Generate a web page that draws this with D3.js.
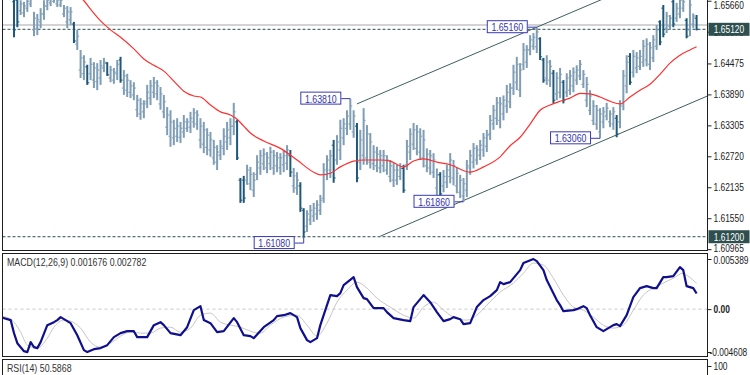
<!DOCTYPE html>
<html>
<head>
<meta charset="utf-8">
<script src="https://cdn.jsdelivr.net/npm/d3@7"></script>
<style>
  body { margin: 0; background: #fff; }
  svg { display: block; font-family: 'Liberation Sans', Arial, sans-serif; }
</style>
</head>
<body>
<div id="chart"></div>
<script>
// price bars (one per period, oldest first)
const barHigh = [
  1.6577, 1.6577, 1.6567, 1.6564, 1.6573, 1.6575, 1.6545, 1.6541, 1.6552, 1.6567,
  1.6573, 1.6577, 1.6575, 1.6571, 1.6573, 1.6558, 1.6556, 1.6554, 1.6526, 1.6511,
  1.6473, 1.6463, 1.6445, 1.6458, 1.6450, 1.6448, 1.6454, 1.6458, 1.6450, 1.6443,
  1.6439, 1.6454, 1.6460, 1.6435, 1.6428, 1.6416, 1.6412, 1.6388, 1.6382, 1.6378,
  1.6407, 1.6416, 1.6422, 1.6416, 1.6403, 1.6388, 1.6365, 1.6359, 1.6341, 1.6344,
  1.6337, 1.6350, 1.6344, 1.6356, 1.6363, 1.6359, 1.6344, 1.6337, 1.6325, 1.6318,
  1.6303, 1.6293, 1.6303, 1.6325, 1.6337, 1.6344, 1.6373, 1.6341, 1.6231, 1.6235,
  1.6256, 1.6252, 1.6242, 1.6274, 1.6284, 1.6287, 1.6280, 1.6290, 1.6284, 1.6280,
  1.6278, 1.6284, 1.6293, 1.6284, 1.6250, 1.6242, 1.6223, 1.6174, 1.6170, 1.6180,
  1.6184, 1.6189, 1.6199, 1.6259, 1.6274, 1.6284, 1.6303, 1.6312, 1.6341, 1.6344,
  1.6359, 1.6381, 1.6359, 1.6335, 1.6322, 1.6363, 1.6331, 1.6316, 1.6293, 1.6290,
  1.6284, 1.6284, 1.6274, 1.6265, 1.6259, 1.6256, 1.6259, 1.6256, 1.6303, 1.6325,
  1.6335, 1.6331, 1.6325, 1.6322, 1.6287, 1.6284, 1.6278, 1.6249, 1.6242, 1.6246,
  1.6256, 1.6278, 1.6265, 1.6251, 1.6237, 1.6231, 1.6265, 1.6284, 1.6297, 1.6293,
  1.6303, 1.6316, 1.6322, 1.6350, 1.6369, 1.6384, 1.6384, 1.6387, 1.6407, 1.6410,
  1.6445, 1.6460, 1.6448, 1.6486, 1.6482, 1.6501, 1.6505, 1.6516, 1.6497, 1.6458,
  1.6463, 1.6454, 1.6435, 1.6431, 1.6439, 1.6416, 1.6429, 1.6435, 1.6440, 1.6444,
  1.6454, 1.6435, 1.6422, 1.6397, 1.6378, 1.6369, 1.6363, 1.6365, 1.6373, 1.6359,
  1.6365, 1.6350, 1.6378, 1.6435, 1.6463, 1.6467, 1.6473, 1.6469, 1.6473, 1.6492,
  1.6495, 1.6488, 1.6501, 1.6520, 1.6529, 1.6558, 1.6545, 1.6539, 1.6571, 1.6562,
  1.6577, 1.6573, 1.6533, 1.6571, 1.6542, 1.6539
];
const barLow = [
  1.6497, 1.6516, 1.6539, 1.6535, 1.6545, 1.6554, 1.6499, 1.6501, 1.6514, 1.6530,
  1.6548, 1.6556, 1.6562, 1.6554, 1.6554, 1.6535, 1.6514, 1.6520, 1.6486, 1.6473,
  1.6420, 1.6416, 1.6407, 1.6416, 1.6401, 1.6397, 1.6407, 1.6431, 1.6424, 1.6412,
  1.6409, 1.6416, 1.6411, 1.6388, 1.6384, 1.6382, 1.6378, 1.6346, 1.6341, 1.6344,
  1.6363, 1.6369, 1.6382, 1.6378, 1.6360, 1.6344, 1.6312, 1.6290, 1.6293, 1.6299,
  1.6297, 1.6307, 1.6318, 1.6316, 1.6326, 1.6322, 1.6287, 1.6278, 1.6274, 1.6271,
  1.6256, 1.6246, 1.6265, 1.6274, 1.6284, 1.6293, 1.6312, 1.6265, 1.6184, 1.6184,
  1.6218, 1.6208, 1.6195, 1.6227, 1.6237, 1.6246, 1.6240, 1.6246, 1.6237, 1.6242,
  1.6237, 1.6242, 1.6246, 1.6233, 1.6203, 1.6199, 1.6167, 1.6118, 1.6129, 1.6142,
  1.6148, 1.6152, 1.6161, 1.6184, 1.6227, 1.6231, 1.6222, 1.6256, 1.6265, 1.6293,
  1.6312, 1.6322, 1.6307, 1.6223, 1.6246, 1.6256, 1.6256, 1.6249, 1.6246, 1.6242,
  1.6240, 1.6242, 1.6237, 1.6223, 1.6214, 1.6218, 1.6227, 1.6203, 1.6246, 1.6265,
  1.6284, 1.6274, 1.6265, 1.6251, 1.6242, 1.6237, 1.6231, 1.6199, 1.6195, 1.6204,
  1.6212, 1.6221, 1.6217, 1.6202, 1.6193, 1.6186, 1.6195, 1.6237, 1.6249, 1.6256,
  1.6265, 1.6271, 1.6280, 1.6303, 1.6322, 1.6331, 1.6325, 1.6340, 1.6354, 1.6363,
  1.6388, 1.6397, 1.6384, 1.6435, 1.6439, 1.6463, 1.6473, 1.6467, 1.6454, 1.6411,
  1.6407, 1.6403, 1.6372, 1.6378, 1.6382, 1.6372, 1.6384, 1.6388, 1.6393, 1.6407,
  1.6416, 1.6401, 1.6365, 1.6350, 1.6331, 1.6322, 1.6306, 1.6325, 1.6340, 1.6327,
  1.6322, 1.6308, 1.6325, 1.6359, 1.6391, 1.6407, 1.6421, 1.6429, 1.6435, 1.6441,
  1.6442, 1.6435, 1.6450, 1.6473, 1.6482, 1.6497, 1.6505, 1.6511, 1.6516, 1.6526,
  1.6533, 1.6545, 1.6495, 1.6499, 1.6514, 1.6510
];
const barOpen = [
  1.6564, 1.6567, 1.6547, 1.6543, 1.6552, 1.6560, 1.6511, 1.6514, 1.6526, 1.6541,
  1.6556, 1.6562, 1.6565, 1.6560, 1.6558, 1.6541, 1.6526, 1.6530, 1.6522, 1.6484,
  1.6435, 1.6428, 1.6441, 1.6428, 1.6416, 1.6413, 1.6420, 1.6439, 1.6448, 1.6420,
  1.6416, 1.6428, 1.6454, 1.6401, 1.6397, 1.6393, 1.6388, 1.6360, 1.6352, 1.6356,
  1.6375, 1.6382, 1.6393, 1.6390, 1.6371, 1.6356, 1.6327, 1.6310, 1.6307, 1.6310,
  1.6308, 1.6318, 1.6325, 1.6327, 1.6337, 1.6333, 1.6303, 1.6295, 1.6289, 1.6284,
  1.6269, 1.6261, 1.6274, 1.6287, 1.6299, 1.6307, 1.6329, 1.6337, 1.6227, 1.6227,
  1.6227, 1.6220, 1.6208, 1.6238, 1.6250, 1.6258, 1.6250, 1.6258, 1.6250, 1.6254,
  1.6250, 1.6256, 1.6259, 1.6273, 1.6216, 1.6212, 1.6216, 1.6170, 1.6140, 1.6152,
  1.6159, 1.6163, 1.6170, 1.6193, 1.6238, 1.6246, 1.6293, 1.6265, 1.6284, 1.6307,
  1.6325, 1.6333, 1.6318, 1.6329, 1.6261, 1.6274, 1.6269, 1.6261, 1.6258, 1.6254,
  1.6250, 1.6254, 1.6246, 1.6234, 1.6227, 1.6227, 1.6234, 1.6249, 1.6256, 1.6280,
  1.6295, 1.6287, 1.6280, 1.6269, 1.6254, 1.6250, 1.6242, 1.6212, 1.6237, 1.6216,
  1.6223, 1.6234, 1.6231, 1.6216, 1.6204, 1.6197, 1.6208, 1.6250, 1.6261, 1.6265,
  1.6274, 1.6284, 1.6291, 1.6314, 1.6333, 1.6344, 1.6340, 1.6352, 1.6367, 1.6375,
  1.6401, 1.6412, 1.6397, 1.6446, 1.6450, 1.6473, 1.6480, 1.6479, 1.6494, 1.6454,
  1.6420, 1.6416, 1.6429, 1.6390, 1.6393, 1.6412, 1.6393, 1.6397, 1.6405, 1.6416,
  1.6424, 1.6408, 1.6378, 1.6359, 1.6340, 1.6333, 1.6318, 1.6337, 1.6348, 1.6337,
  1.6333, 1.6344, 1.6337, 1.6371, 1.6405, 1.6461, 1.6431, 1.6439, 1.6442, 1.6450,
  1.6454, 1.6446, 1.6458, 1.6480, 1.6526, 1.6552, 1.6514, 1.6518, 1.6564, 1.6533,
  1.6541, 1.6552, 1.6529, 1.6511, 1.6522, 1.6533
];
const barClose = [
  1.6511, 1.6526, 1.6560, 1.6556, 1.6565, 1.6569, 1.6533, 1.6530, 1.6541, 1.6556,
  1.6567, 1.6571, 1.6571, 1.6567, 1.6567, 1.6552, 1.6545, 1.6545, 1.6490, 1.6499,
  1.6458, 1.6450, 1.6411, 1.6446, 1.6439, 1.6435, 1.6443, 1.6450, 1.6426, 1.6435,
  1.6431, 1.6446, 1.6416, 1.6424, 1.6416, 1.6405, 1.6401, 1.6378, 1.6371, 1.6371,
  1.6393, 1.6405, 1.6411, 1.6405, 1.6390, 1.6375, 1.6350, 1.6337, 1.6325, 1.6329,
  1.6325, 1.6337, 1.6337, 1.6344, 1.6354, 1.6350, 1.6329, 1.6322, 1.6312, 1.6303,
  1.6289, 1.6280, 1.6291, 1.6310, 1.6322, 1.6329, 1.6356, 1.6269, 1.6189, 1.6193,
  1.6246, 1.6238, 1.6227, 1.6261, 1.6273, 1.6276, 1.6269, 1.6280, 1.6273, 1.6269,
  1.6269, 1.6273, 1.6284, 1.6242, 1.6235, 1.6227, 1.6174, 1.6129, 1.6163, 1.6170,
  1.6174, 1.6180, 1.6189, 1.6246, 1.6265, 1.6273, 1.6231, 1.6299, 1.6325, 1.6333,
  1.6348, 1.6367, 1.6348, 1.6231, 1.6303, 1.6340, 1.6314, 1.6299, 1.6280, 1.6276,
  1.6273, 1.6273, 1.6265, 1.6254, 1.6246, 1.6246, 1.6249, 1.6208, 1.6291, 1.6314,
  1.6322, 1.6318, 1.6310, 1.6303, 1.6276, 1.6273, 1.6265, 1.6237, 1.6201, 1.6234,
  1.6246, 1.6265, 1.6254, 1.6240, 1.6227, 1.6220, 1.6254, 1.6273, 1.6287, 1.6284,
  1.6293, 1.6307, 1.6312, 1.6340, 1.6359, 1.6373, 1.6371, 1.6378, 1.6393, 1.6401,
  1.6431, 1.6446, 1.6435, 1.6473, 1.6473, 1.6492, 1.6497, 1.6507, 1.6460, 1.6416,
  1.6450, 1.6442, 1.6378, 1.6420, 1.6427, 1.6378, 1.6420, 1.6424, 1.6431, 1.6435,
  1.6446, 1.6427, 1.6408, 1.6386, 1.6367, 1.6359, 1.6352, 1.6356, 1.6363, 1.6352,
  1.6356, 1.6314, 1.6367, 1.6424, 1.6450, 1.6412, 1.6461, 1.6458, 1.6461, 1.6480,
  1.6484, 1.6477, 1.6492, 1.6511, 1.6488, 1.6503, 1.6537, 1.6533, 1.6522, 1.6552,
  1.6567, 1.6564, 1.6499, 1.6558, 1.6537, 1.6512
];

// moving average (red), read at sample bars
const maIndex = [18, 21, 23, 26, 29, 32, 36, 39, 42, 45, 48, 51, 54, 56, 59, 62, 65, 67, 69, 71,
  75, 80, 85, 90, 92, 95, 98, 102, 105, 110, 113, 117, 120, 123, 127, 131, 137, 141, 146, 149,
  152, 155, 158, 161, 164, 167, 170, 173, 176, 179, 182, 185, 188, 191, 194, 197, 200, 203, 205];
const maValue = [1.6581, 1.6566, 1.6550, 1.6528, 1.6511, 1.6497, 1.6475, 1.6456, 1.6444, 1.6433,
  1.6414, 1.6395, 1.6386, 1.6384, 1.6369, 1.6356, 1.6350, 1.6342, 1.6329, 1.6316,
  1.6301, 1.6287, 1.6265, 1.6242, 1.6237, 1.6240, 1.6252, 1.6263, 1.6265, 1.6265,
  1.6263, 1.6252, 1.6263, 1.6267, 1.6261, 1.6256, 1.6242, 1.6252, 1.6271, 1.6292,
  1.6308, 1.6333, 1.6359, 1.6369, 1.6376, 1.6382, 1.6391, 1.6390, 1.6384, 1.6376,
  1.6371, 1.6384, 1.6397, 1.6408, 1.6427, 1.6448, 1.6463, 1.6473, 1.6479];

// MACD(12,26,9) main line and signal, read at sample bars
const macdIndex = [-4, -1, 0, 1, 3, 4, 5, 6, 7, 8,
  10, 12, 13, 14, 16, 17, 19, 21, 22, 24,
  26, 28, 30, 32, 34, 36, 37, 40, 42, 44,
  45, 47, 50, 52, 54, 56, 57, 59, 61, 63,
  66, 67, 69, 71, 72, 75, 78, 79, 81, 83,
  85, 86, 88, 89, 91, 92, 95, 97, 98, 99,
  102, 103, 105, 106, 108, 111, 112, 114, 117, 119,
  120, 121, 123, 125, 127, 129, 131, 132, 134, 135,
  137, 139, 141, 143, 145, 146, 147, 149, 150, 152,
  153, 156, 157, 159, 160, 163, 164, 165, 168, 169,
  171, 172, 173, 175, 177, 178, 180, 181, 182, 184,
  186, 188, 190, 192, 193, 195, 196, 198, 200, 201,
  202, 204, 205];
const macdValue = [-0.00086, -0.00118, -0.00258, -0.00366, -0.00452, -0.00462, -0.00355, -0.00409, -0.00419, -0.00355,
  -0.00172, -0.00140, -0.00118, -0.00086, -0.00129, -0.00151, -0.00280, -0.00441, -0.00462, -0.00430,
  -0.00419, -0.00387, -0.00301, -0.00258, -0.00237, -0.00237, -0.00301, -0.00301, -0.00172, -0.00140,
  -0.00172, -0.00258, -0.00280, -0.00194, -0.00011, 0.00032, -0.00118, -0.00151, -0.00247, -0.00237,
  -0.00097, -0.00140, -0.00280, -0.00290, -0.00312, -0.00194, -0.00118, -0.00075, -0.00065, -0.00043,
  -0.00086, -0.00204, -0.00333, -0.00355, -0.00312, -0.00172, 0.00151, 0.00140, 0.00172, 0.00258,
  0.00344, 0.00237, 0.00118, 0.00108, 0.00011, 0.00011, -0.00032, -0.00097, -0.00118, -0.00129,
  0.00022, 0.00065, 0.00151, 0.00075, -0.00032, -0.00129, -0.00108, -0.00086, -0.00108, -0.00161,
  -0.00151, 0.00022, 0.00097, 0.00140, 0.00204, 0.00290, 0.00269, 0.00290, 0.00333, 0.00419,
  0.00495, 0.00538, 0.00516, 0.00419, 0.00312, 0.00097, 0.00043, -0.00022, -0.00011, 0.00000,
  0.00032, 0.00011, -0.00065, -0.00194, -0.00237, -0.00215, -0.00172, -0.00161, -0.00183, -0.00065,
  0.00129, 0.00226, 0.00247, 0.00226, 0.00226, 0.00344, 0.00344, 0.00355, 0.00452, 0.00419,
  0.00247, 0.00226, 0.001676];
const signalIndex = [-4, -1, 2, 4, 7, 10, 12, 15, 17, 20,
  23, 26, 29, 32, 35, 38, 41, 44, 47, 50,
  53, 56, 59, 62, 65, 68, 71, 74, 77, 81,
  85, 88, 91, 94, 97, 100, 103, 106, 109, 113,
  117, 120, 123, 126, 129, 132, 136, 139, 142, 146,
  150, 153, 156, 159, 162, 165, 168, 171, 174, 177,
  180, 183, 186, 189, 192, 195, 198, 201, 202, 205];
const signalValue = [-0.00075, -0.00108, -0.00247, -0.00387, -0.00419, -0.00312, -0.00194, -0.00118, -0.00129, -0.00204,
  -0.00355, -0.00409, -0.00366, -0.00290, -0.00247, -0.00258, -0.00258, -0.00204, -0.00194, -0.00247,
  -0.00204, -0.00065, -0.00043, -0.00140, -0.00172, -0.00194, -0.00237, -0.00258, -0.00172, -0.00086,
  -0.00065, -0.00172, -0.00290, -0.00151, 0.00075, 0.00204, 0.00290, 0.00226, 0.00118, 0.00022,
  -0.00065, -0.00097, 0.00022, 0.00075, -0.00011, -0.00086, -0.00118, -0.00065, 0.00043, 0.00183,
  0.00280, 0.00387, 0.00495, 0.00473, 0.00333, 0.00151, 0.00022, -0.00011, -0.00086, -0.00172,
  -0.00204, -0.00172, -0.00011, 0.00151, 0.00226, 0.00280, 0.00333, 0.00387, 0.00366, 0.002782];

// chart objects
const peakIndex = [157, 101, 176, 135, 87];
const peakPrice = [1.6516, 1.6381, 1.6306, 1.6186, 1.6108];
const upperChannel = [[103, 1.6371], [176, 1.6567]];
const lowerChannel = [[110, 1.6121], [176, 1.6299]];
const dashedLevels = [1.6512, 1.6120];
const askLevel = 1.6520;

// axis labels
const priceTicks = [1.65660, 1.65075, 1.64475, 1.63890, 1.63305, 1.62720, 1.62135, 1.61550, 1.60965];
const priceBoxes = [1.65120, 1.61200];
const macdTicks = [0.005389, 0, -0.004608];
const rsiTicks = [100];
const macdTitle = 'MACD(12,26,9) 0.001676 0.002782';
const rsiTitle = 'RSI(14) 50.5868';

const W = 750, H = 375;
const frame = { left: 2.5, right: 707.5 };
const lightBar = '#7f9db4';
const darkBar = '#1f5879';
const slate = '#2f4f4f';
const boxBlue = '#3a3ab4';
const sx = 0.8; // horizontal squeeze of the text
const fontSize = 10.5;

const svg = d3.select('#chart').append('svg')
  .attr('width', W).attr('height', H)
  .style('background', '#fff');

const defs = svg.append('defs');
defs.append('clipPath').attr('id', 'clipMain')
  .append('rect').attr('x', 3).attr('y', 0).attr('width', 704).attr('height', 250);
defs.append('clipPath').attr('id', 'clipMacd')
  .append('rect').attr('x', 3).attr('y', 254).attr('width', 704).attr('height', 102);

// scales
const x = d3.scaleLinear().domain([0, barHigh.length - 1]).range([14, 696.6]);
const yPrice = d3.scaleLinear().domain([1.60968, 1.65674]).range([249, 0]);
const yMacd = d3.scaleLinear().domain([-0.004608, 0.005389]).range([352, 259]);
const yRsi = d3.scaleLinear().domain([0, 100]).range([471, 366]);

// ---- main pane
const main = svg.append('g').attr('clip-path', 'url(#clipMain)');

main.append('line')
  .attr('x1', frame.left).attr('x2', frame.right)
  .attr('y1', yPrice(askLevel)).attr('y2', yPrice(askLevel))
  .attr('stroke', '#c4c4c4').attr('stroke-width', 1.5);

main.selectAll('line.level').data(dashedLevels).join('line')
  .attr('class', 'level')
  .attr('x1', frame.left).attr('x2', frame.right)
  .attr('y1', d => yPrice(d)).attr('y2', d => yPrice(d))
  .attr('stroke', slate).attr('stroke-dasharray', '3,2');

// channel lines, extended to the right edge
const iEdge = x.invert(frame.right);
const extend = ([[i0, p0], [i1, p1]]) => {
  const slope = (p1 - p0) / (i1 - i0);
  return [[i0, p0], [iEdge, p0 + slope * (iEdge - i0)]];
};
main.selectAll('line.channel').data([upperChannel, lowerChannel].map(extend)).join('line')
  .attr('class', 'channel')
  .attr('x1', d => x(d[0][0])).attr('y1', d => yPrice(d[0][1]))
  .attr('x2', d => x(d[1][0])).attr('y2', d => yPrice(d[1][1]))
  .attr('stroke', '#3e5e5e').attr('stroke-width', 1);

// bars
const bars = d3.range(barHigh.length).map(i => ({
  i, o: barOpen[i], h: barHigh[i], l: barLow[i], c: barClose[i]
}));
const barG = main.selectAll('g.bar').data(bars).join('g')
  .attr('class', 'bar')
  .attr('stroke', d => (d.c < d.o ? darkBar : lightBar));
barG.append('line')
  .attr('x1', d => x(d.i)).attr('x2', d => x(d.i))
  .attr('y1', d => yPrice(d.h)).attr('y2', d => yPrice(d.l))
  .attr('stroke-width', 2);
barG.append('line')
  .attr('x1', d => x(d.i) - 2).attr('x2', d => x(d.i))
  .attr('y1', d => yPrice(d.o)).attr('y2', d => yPrice(d.o))
  .attr('stroke-width', 1);
barG.append('line')
  .attr('x1', d => x(d.i)).attr('x2', d => x(d.i) + 2)
  .attr('y1', d => yPrice(d.c)).attr('y2', d => yPrice(d.c))
  .attr('stroke-width', 1);

// moving average
const maLine = d3.line()
  .x((d, k) => x(maIndex[k]))
  .y(d => yPrice(d))
  .curve(d3.curveMonotoneX);
main.append('path').datum(maValue)
  .attr('d', maLine)
  .attr('fill', 'none').attr('stroke', '#ff2f2f').attr('stroke-width', 1.2);

// peak / trough labels
const peaks = peakIndex.map((i, k) => {
  const isHigh = Math.abs(barHigh[i] - peakPrice[k]) < Math.abs(barLow[i] - peakPrice[k]);
  return { i, p: peakPrice[k], barEnd: isHigh ? barHigh[i] : barLow[i] };
});
const peakG = main.selectAll('g.peak').data(peaks).join('g').attr('class', 'peak');
peakG.append('path')
  .attr('d', d => {
    const bx = x(d.i), ly = yPrice(d.p);
    return `M${bx - 9},${ly}H${bx}V${yPrice(d.barEnd)}`;
  })
  .attr('fill', 'none').attr('stroke', boxBlue);
peakG.append('rect')
  .attr('x', d => x(d.i) - 49.5).attr('y', d => yPrice(d.p) - 6.5)
  .attr('width', 40).attr('height', 12)
  .attr('fill', '#fff').attr('stroke', boxBlue);
peakG.append('text')
  .attr('transform', d => `translate(${x(d.i) - 29.5},${yPrice(d.p)}) scale(${sx},1)`)
  .attr('text-anchor', 'middle').attr('dy', '0.36em')
  .attr('font-size', 11).attr('fill', '#3535aa')
  .text(d => d.p.toFixed(5));

// ---- MACD pane
const macdG = svg.append('g').attr('clip-path', 'url(#clipMacd)');
macdG.append('line')
  .attr('x1', frame.left).attr('x2', frame.right)
  .attr('y1', yMacd(0)).attr('y2', yMacd(0))
  .attr('stroke', '#c8c8c8').attr('stroke-dasharray', '3,3');
macdG.append('path').datum(signalValue)
  .attr('d', d3.line().x((d, k) => x(signalIndex[k])).y(d => yMacd(d)).curve(d3.curveMonotoneX))
  .attr('fill', 'none').attr('stroke', '#c6c6c6').attr('stroke-width', 1);
macdG.append('path').datum(macdValue)
  .attr('d', d3.line().x((d, k) => x(macdIndex[k])).y(d => yMacd(d)))
  .attr('fill', 'none').attr('stroke', '#10108f').attr('stroke-width', 2.2)
  .attr('stroke-linejoin', 'round');

// ---- frames
const panes = [[-1, 250.5], [253.5, 356.5], [359.5, 390]];
svg.selectAll('rect.pane').data(panes).join('rect')
  .attr('class', 'pane')
  .attr('x', frame.left).attr('y', d => d[0])
  .attr('width', frame.right - frame.left).attr('height', d => d[1] - d[0])
  .attr('fill', 'none').attr('stroke', '#1e1e1e').attr('stroke-width', 1);

// ---- axes on the right
function styleAxis(g) {
  g.select('.domain').remove();
  g.selectAll('.tick line').attr('stroke', '#222');
  g.selectAll('.tick text')
    .attr('x', 6 / sx)
    .attr('transform', `scale(${sx},1)`)
    .attr('font-size', fontSize)
    .attr('font-family', "'Liberation Sans', Arial, sans-serif")
    .attr('fill', '#222');
}

const priceAxis = svg.append('g')
  .attr('transform', `translate(${frame.right},0)`)
  .call(d3.axisRight(yPrice).tickValues(priceTicks).tickSize(4).tickFormat(d3.format('.5f')))
  .call(styleAxis);
priceAxis.selectAll('.tick text')
  .attr('y', d => Math.max(0, 5 - yPrice(d)) - (yPrice(d) > 245 ? 1 : 0));

svg.append('g')
  .attr('transform', `translate(${frame.right},0)`)
  .call(d3.axisRight(yMacd).tickValues(macdTicks).tickSize(4)
    .tickFormat(d => (d === 0 ? '0.00' : d.toFixed(6))))
  .call(styleAxis)
  .selectAll('.tick text')
  .attr('x', d => (d < 0 ? 2 : 6) / sx)
  .attr('y', d => (d > 0 ? 1.5 : 0))
  .attr('font-weight', d => (d === 0 ? 'bold' : null));

svg.append('g')
  .attr('transform', `translate(${frame.right},0)`)
  .call(d3.axisRight(yRsi).tickValues(rsiTicks).tickSize(4))
  .call(styleAxis);

// current price boxes on the axis
const boxG = svg.selectAll('g.pbox').data(priceBoxes).join('g')
  .attr('class', 'pbox')
  .attr('transform', d => `translate(${frame.right + 1},${yPrice(d)})`);
boxG.append('rect')
  .attr('x', 0).attr('y', -6.5).attr('width', 41).attr('height', 13)
  .attr('fill', slate);
boxG.append('text')
  .attr('transform', `translate(20.5,0) scale(${sx},1)`)
  .attr('text-anchor', 'middle').attr('dy', '0.36em')
  .attr('font-size', fontSize).attr('fill', '#fff')
  .text(d => d.toFixed(5));

// pane titles
svg.append('text')
  .attr('transform', `translate(7,262) scale(${sx},1)`)
  .attr('dy', '0.36em').attr('font-size', 11).attr('fill', '#333')
  .text(macdTitle);
svg.append('text')
  .attr('transform', `translate(7,368) scale(${sx},1)`)
  .attr('dy', '0.36em').attr('font-size', 11).attr('fill', '#333')
  .text(rsiTitle);
</script>
</body>
</html>
